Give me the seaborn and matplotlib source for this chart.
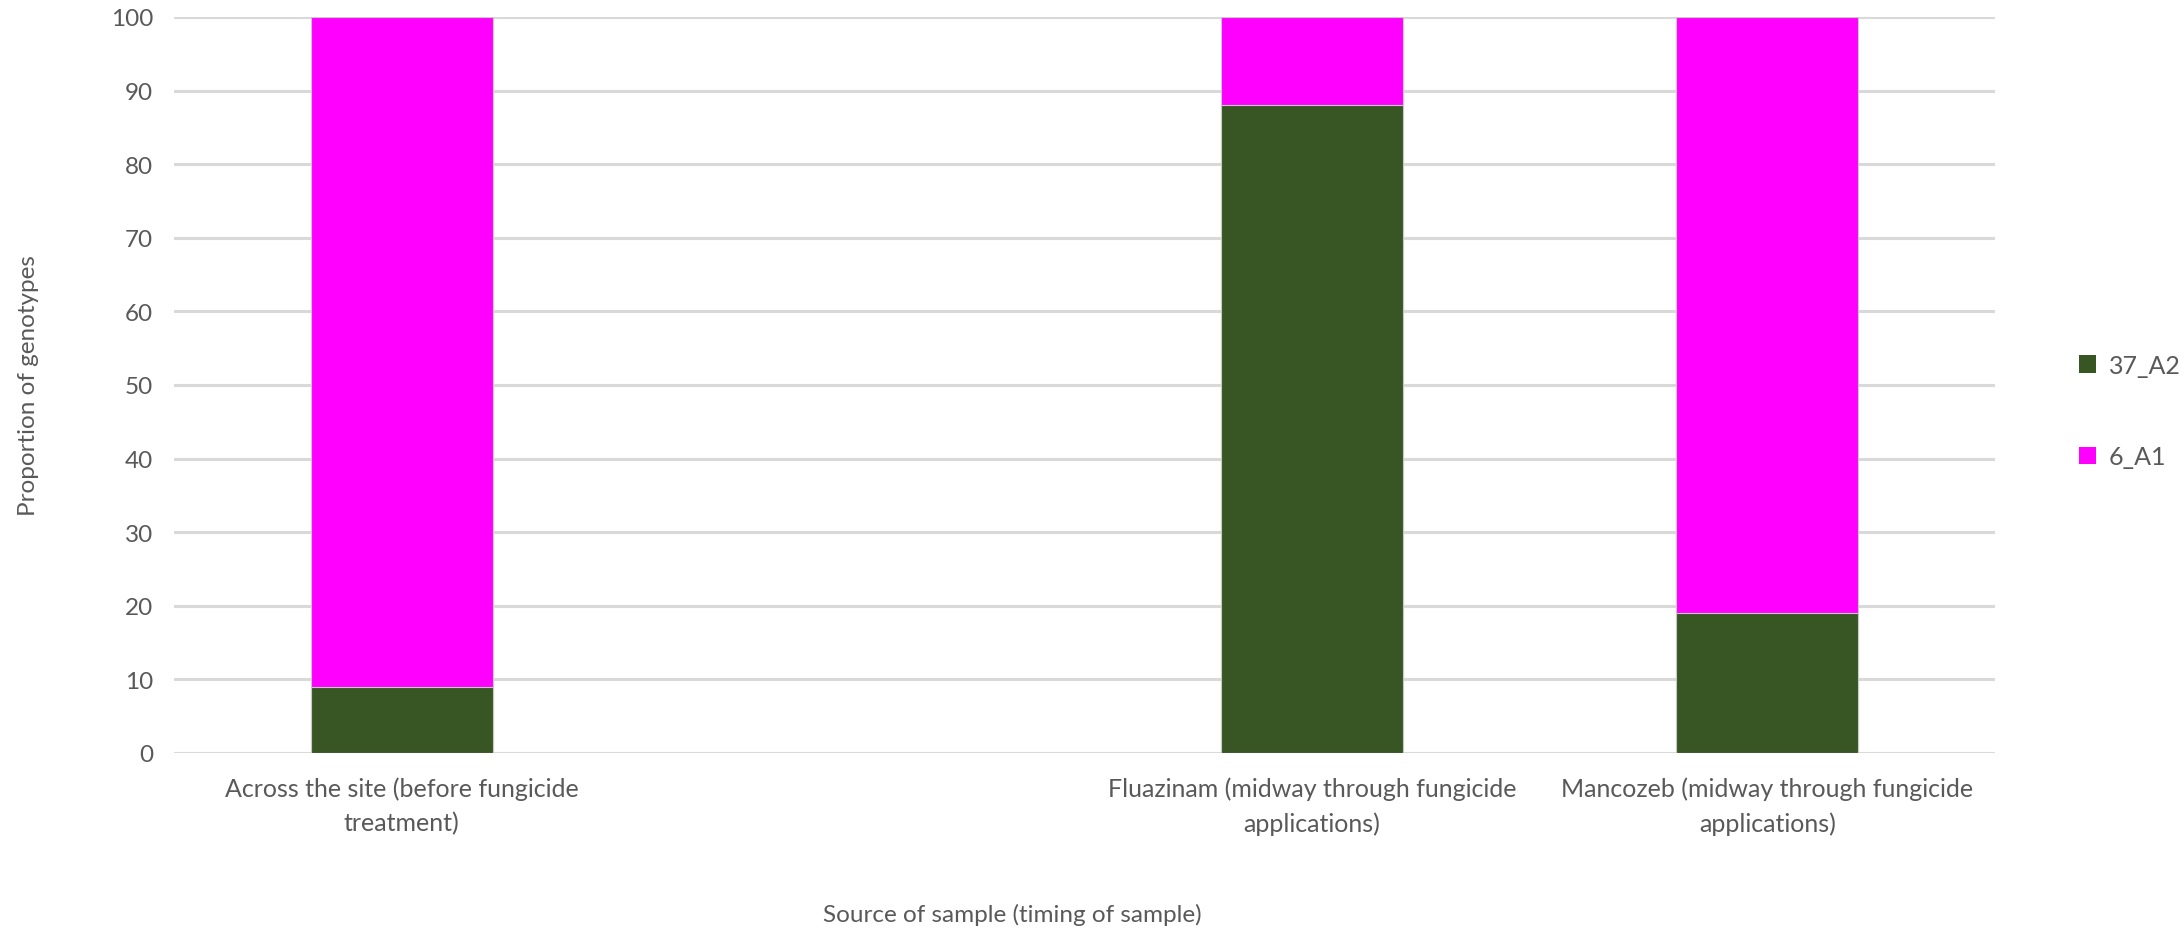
import matplotlib
matplotlib.use("Agg")
import matplotlib.pyplot as plt
import seaborn as sns
import pandas as pd
from matplotlib.patches import Patch

# Sample sources (one empty slot between the baseline and the treatments)
categories = [
    "Across the site (before fungicide\ntreatment)",
    "Fluazinam (midway through fungicide\napplications)",
    "Mancozeb (midway through fungicide\napplications)",
]
slot_order = [categories[0], " ", categories[1], categories[2]]

# Genotype proportions (%)
geno_37_A2 = [9, 88, 19]
geno_6_A1 = [91, 12, 81]

series_names = ["37_A2", "6_A1"]
green = "#375623"
magenta = "#FF00FF"
text_grey = "#595959"
grid_grey = "#D9D9D9"

df = pd.DataFrame({
    "source": categories,
    "37_A2": geno_37_A2,
    "6_A1": geno_6_A1,
})
df["top"] = df["37_A2"] + df["6_A1"]

sns.set_theme(style="white")
plt.rcParams["font.family"] = ["Lato", "DejaVu Sans"]

fig = plt.figure(figsize=(21.84, 9.29), dpi=100)
ax = fig.add_axes([174 / 2184, 1 - 754 / 929, (1995 - 174) / 2184, (754 - 18) / 929])

# stacked bars: full stack in magenta, lower segment in green on top
sns.barplot(data=df, x="source", y="top", order=slot_order, color=magenta,
            width=0.4, edgecolor="#C8C8C8", linewidth=0.8, saturation=1,
            ax=ax, zorder=3)
sns.barplot(data=df, x="source", y="37_A2", order=slot_order, color=green,
            width=0.4, edgecolor="#C8C8C8", linewidth=0.8, saturation=1,
            ax=ax, zorder=4)

ax.set_ylim(0, 100)
ax.set_yticks(range(0, 101, 10))
ax.set_xlim(-0.5, 3.5)
ax.yaxis.grid(True, color=grid_grey, linewidth=2.2, zorder=0)
ax.set_axisbelow(True)
for s in ax.spines.values():
    s.set_visible(False)

ax.tick_params(axis="y", length=0, pad=15, labelsize=17.5, labelcolor=text_grey)
ax.tick_params(axis="x", length=0, pad=17, labelsize=18, labelcolor=text_grey)
for lab in ax.get_xticklabels():
    lab.set_linespacing(1.55)

ax.set_xlabel("")
ax.set_ylabel("")
fig.text(29 / 2184, 1 - 386 / 929, "Proportion of genotypes", rotation=90,
         ha="center", va="center", fontsize=17.5, color=text_grey)
fig.text(1012 / 2184, 1 - 915 / 929, "Source of sample (timing of sample)",
         ha="center", va="center", fontsize=17.5, color=text_grey)

handles = [Patch(facecolor=green, edgecolor="none"),
           Patch(facecolor=magenta, edgecolor="none")]
fig.legend(handles, series_names, loc="center left",
           bbox_to_anchor=(2056 / 2184, 1 - 412 / 929), frameon=False,
           fontsize=18, labelcolor=text_grey, handlelength=0.7,
           handleheight=0.7, handletextpad=0.5, labelspacing=2.75)

fig.savefig("out.png", dpi=100, facecolor="white")
